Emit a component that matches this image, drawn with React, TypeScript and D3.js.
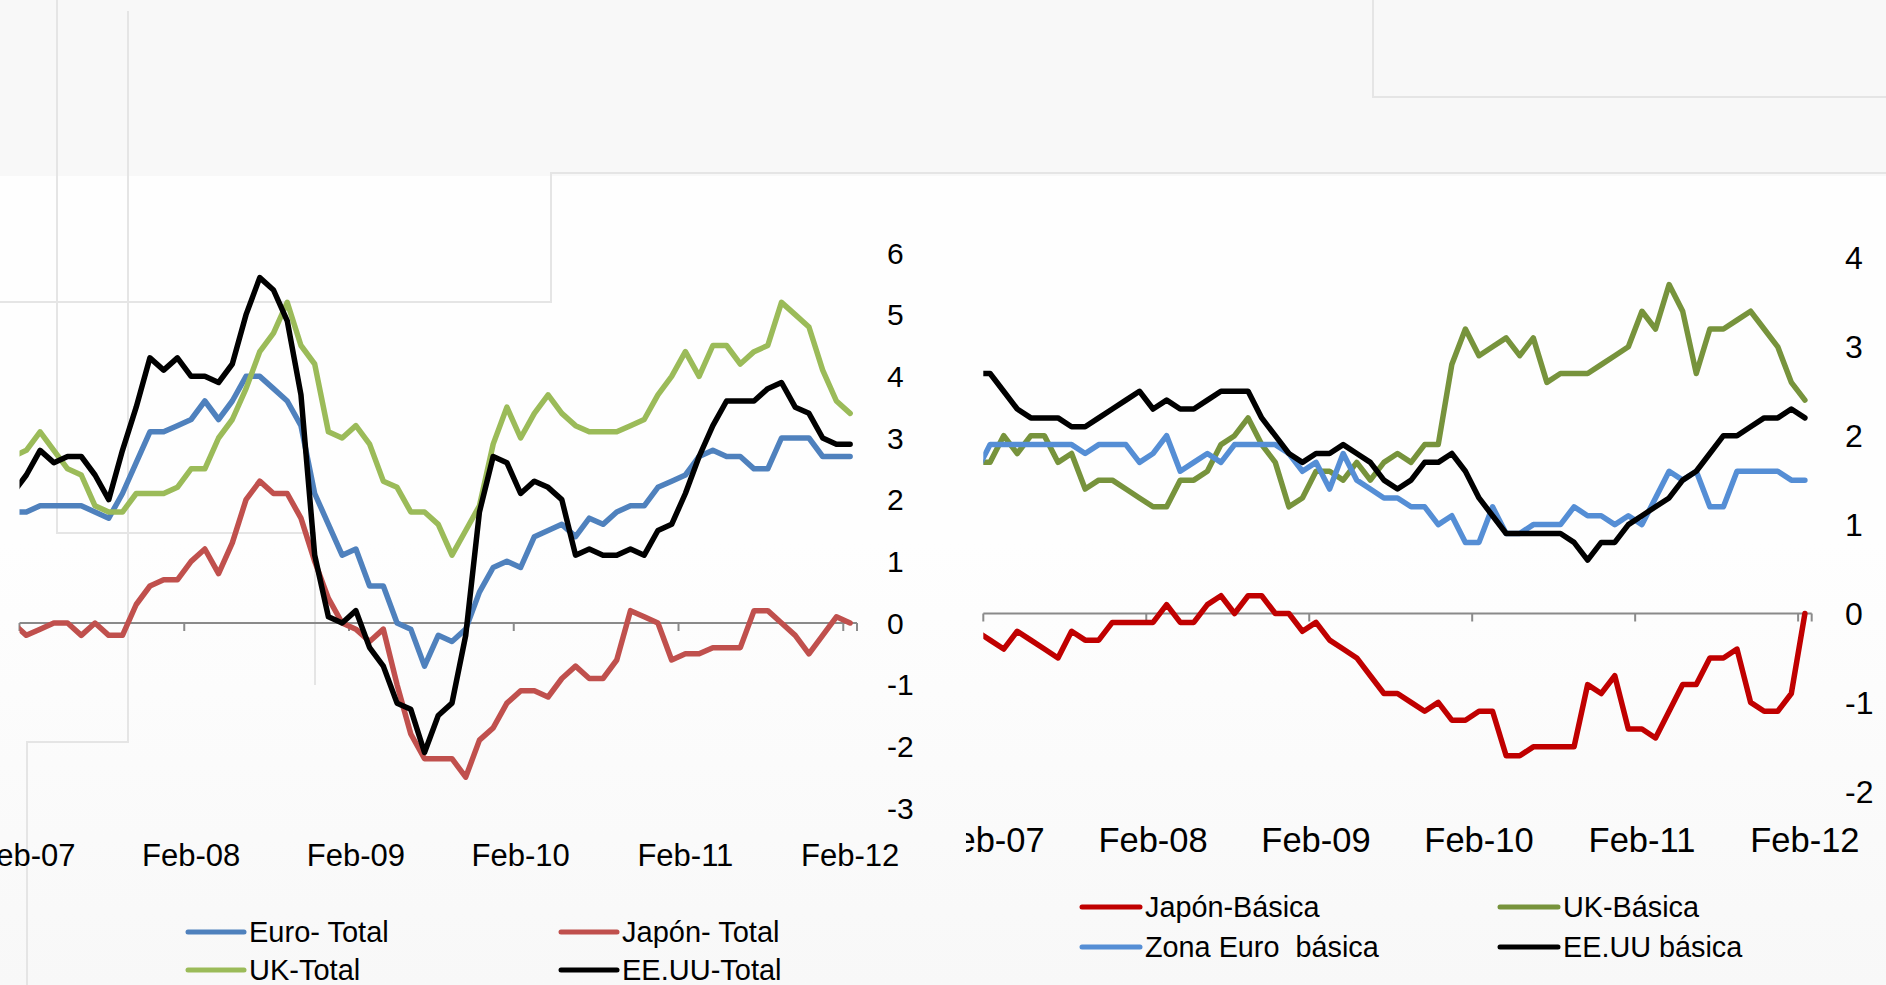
import React from "react";
import * as d3 from "d3";

// Monthly categories, Jan-07 … Feb-12 (Jan-07 sits just left of the visible axis and is clipped)
const months = d3.timeMonth.range(new Date(2007, 0, 1), new Date(2012, 2, 1));
const monthLabels = months.map(d3.timeFormat("%b-%y"));
const xTickLabels = ["Feb-07", "Feb-08", "Feb-09", "Feb-10", "Feb-11", "Feb-12"];
const totalTicks = [-3, -2, -1, 0, 1, 2, 3, 4, 5, 6];
const coreTicks = [-2, -1, 0, 1, 2, 3, 4];

// Headline inflation, % y/y
const euroTotal = [1.8, 1.8, 1.9, 1.9, 1.9, 1.9, 1.8, 1.7, 2.1, 2.6, 3.1, 3.1, 3.2, 3.3, 3.6, 3.3, 3.6, 4.0, 4.0, 3.8, 3.6, 3.2, 2.1, 1.6, 1.1, 1.2, 0.6, 0.6, 0.0, -0.1, -0.7, -0.2, -0.3, -0.1, 0.5, 0.9, 1.0, 0.9, 1.4, 1.5, 1.6, 1.4, 1.7, 1.6, 1.8, 1.9, 1.9, 2.2, 2.3, 2.4, 2.7, 2.8, 2.7, 2.7, 2.5, 2.5, 3.0, 3.0, 3.0, 2.7, 2.7, 2.7];
const japonTotal = [0.0, -0.2, -0.1, 0.0, 0.0, -0.2, 0.0, -0.2, -0.2, 0.3, 0.6, 0.7, 0.7, 1.0, 1.2, 0.8, 1.3, 2.0, 2.3, 2.1, 2.1, 1.7, 1.0, 0.4, 0.0, -0.1, -0.3, -0.1, -1.0, -1.8, -2.2, -2.2, -2.2, -2.5, -1.9, -1.7, -1.3, -1.1, -1.1, -1.2, -0.9, -0.7, -0.9, -0.9, -0.6, 0.2, 0.1, 0.0, -0.6, -0.5, -0.5, -0.4, -0.4, -0.4, 0.2, 0.2, 0.0, -0.2, -0.5, -0.2, 0.1, 0.0];
const ukTotal = [2.7, 2.8, 3.1, 2.8, 2.5, 2.4, 1.9, 1.8, 1.8, 2.1, 2.1, 2.1, 2.2, 2.5, 2.5, 3.0, 3.3, 3.8, 4.4, 4.7, 5.2, 4.5, 4.2, 3.1, 3.0, 3.2, 2.9, 2.3, 2.2, 1.8, 1.8, 1.6, 1.1, 1.5, 1.9, 2.9, 3.5, 3.0, 3.4, 3.7, 3.4, 3.2, 3.1, 3.1, 3.1, 3.2, 3.3, 3.7, 4.0, 4.4, 4.0, 4.5, 4.5, 4.2, 4.4, 4.5, 5.2, 5.0, 4.8, 4.1, 3.6, 3.4];
const eeuuTotal = [2.1, 2.4, 2.8, 2.6, 2.7, 2.7, 2.4, 2.0, 2.8, 3.5, 4.3, 4.1, 4.3, 4.0, 4.0, 3.9, 4.2, 5.0, 5.6, 5.4, 4.9, 3.7, 1.1, 0.1, 0.0, 0.2, -0.4, -0.7, -1.3, -1.4, -2.1, -1.5, -1.3, -0.2, 1.8, 2.7, 2.6, 2.1, 2.3, 2.2, 2.0, 1.1, 1.2, 1.1, 1.1, 1.2, 1.1, 1.5, 1.6, 2.1, 2.7, 3.2, 3.6, 3.6, 3.6, 3.8, 3.9, 3.5, 3.4, 3.0, 2.9, 2.9];

// Core inflation, % y/y
const japonBasica = [-0.2, -0.3, -0.4, -0.2, -0.3, -0.4, -0.5, -0.2, -0.3, -0.3, -0.1, -0.1, -0.1, -0.1, 0.1, -0.1, -0.1, 0.1, 0.2, 0.0, 0.2, 0.2, 0.0, 0.0, -0.2, -0.1, -0.3, -0.4, -0.5, -0.7, -0.9, -0.9, -1.0, -1.1, -1.0, -1.2, -1.2, -1.1, -1.1, -1.6, -1.6, -1.5, -1.5, -1.5, -1.5, -0.8, -0.9, -0.7, -1.3, -1.3, -1.4, -1.1, -0.8, -0.8, -0.5, -0.5, -0.4, -1.0, -1.1, -1.1, -0.9, 0.0];
const ukBasica = [1.7, 1.7, 2.0, 1.8, 2.0, 2.0, 1.7, 1.8, 1.4, 1.5, 1.5, 1.4, 1.3, 1.2, 1.2, 1.5, 1.5, 1.6, 1.9, 2.0, 2.2, 1.9, 1.7, 1.2, 1.3, 1.6, 1.6, 1.5, 1.7, 1.5, 1.7, 1.8, 1.7, 1.9, 1.9, 2.8, 3.2, 2.9, 3.0, 3.1, 2.9, 3.1, 2.6, 2.7, 2.7, 2.7, 2.8, 2.9, 3.0, 3.4, 3.2, 3.7, 3.4, 2.7, 3.2, 3.2, 3.3, 3.4, 3.2, 3.0, 2.6, 2.4];
const euroBasica = [1.6, 1.9, 1.9, 1.9, 1.9, 1.9, 1.9, 1.9, 1.8, 1.9, 1.9, 1.9, 1.7, 1.8, 2.0, 1.6, 1.7, 1.8, 1.7, 1.9, 1.9, 1.9, 1.9, 1.8, 1.6, 1.7, 1.4, 1.8, 1.5, 1.4, 1.3, 1.3, 1.2, 1.2, 1.0, 1.1, 0.8, 0.8, 1.2, 0.9, 0.9, 1.0, 1.0, 1.0, 1.2, 1.1, 1.1, 1.0, 1.1, 1.0, 1.3, 1.6, 1.5, 1.6, 1.2, 1.2, 1.6, 1.6, 1.6, 1.6, 1.5, 1.5];
const eeuuBasica = [2.7, 2.7, 2.5, 2.3, 2.2, 2.2, 2.2, 2.1, 2.1, 2.2, 2.3, 2.4, 2.5, 2.3, 2.4, 2.3, 2.3, 2.4, 2.5, 2.5, 2.5, 2.2, 2.0, 1.8, 1.7, 1.8, 1.8, 1.9, 1.8, 1.7, 1.5, 1.4, 1.5, 1.7, 1.7, 1.8, 1.6, 1.3, 1.1, 0.9, 0.9, 0.9, 0.9, 0.9, 0.8, 0.6, 0.8, 0.8, 1.0, 1.1, 1.2, 1.3, 1.5, 1.6, 1.8, 2.0, 2.0, 2.1, 2.2, 2.2, 2.3, 2.2];

type Series = { name: string; color: string; values: number[] };

const totalSeries: Series[] = [
  { name: "Euro- Total", color: "#4F81BD", values: euroTotal },
  { name: "Japón- Total", color: "#C0504D", values: japonTotal },
  { name: "UK-Total", color: "#9BBB59", values: ukTotal },
  { name: "EE.UU-Total", color: "#000000", values: eeuuTotal },
];

const coreSeries: Series[] = [
  { name: "Japón-Básica", color: "#C00000", values: japonBasica },
  { name: "UK-Básica", color: "#77933C", values: ukBasica },
  { name: "Zona Euro  básica", color: "#558ED5", values: euroBasica },
  { name: "EE.UU básica", color: "#000000", values: eeuuBasica },
];

const FONT = "'Liberation Sans', Arial, Helvetica, sans-serif";

type PanelProps = {
  id: string;
  series: Series[];
  xStart: number;
  xEnd: number;
  yDomain: [number, number];
  yRange: [number, number];
  yTicks: number[];
  yLabelX: number;
  yLabelSize: number;
  xLabelY: number;
  xLabelSize: number;
  strokeWidth: number;
  viewLeft: number;
};

function Panel(p: PanelProps) {
  const n = monthLabels.length;
  const step = (p.xEnd - p.xStart) / (n - 1);
  const x = d3.scaleBand<string>().domain(monthLabels).range([p.xStart - step, p.xEnd]).padding(0);
  const bw = x.bandwidth();
  const cx = (m: string) => (x(m) as number) + bw / 2;
  const y = d3.scaleLinear().domain(p.yDomain).range(p.yRange);
  const line = d3
    .line<number>()
    .x((_, i) => cx(monthLabels[i]))
    .y((v) => y(v));
  const y0 = y(0);

  return (
    <g>
      <defs>
        <clipPath id={p.id}>
          <rect x={p.xStart} y={0} width={p.xEnd - p.xStart + 4} height={985} />
        </clipPath>
        <clipPath id={p.id + "View"}>
          <rect x={p.viewLeft} y={0} width={1886 - p.viewLeft} height={985} />
        </clipPath>
      </defs>
      <g clipPath={`url(#${p.id}View)`}>
        {/* category axis on the zero line */}
        <line x1={p.xStart} x2={p.xEnd} y1={y0} y2={y0} stroke="#8a8a8a" strokeWidth={2} />
        {xTickLabels.map((t) => (
          <line key={t} x1={x(t) as number} x2={x(t) as number} y1={y0} y2={y0 + 8} stroke="#8a8a8a" strokeWidth={2} />
        ))}
        <line x1={p.xEnd} x2={p.xEnd} y1={y0} y2={y0 + 8} stroke="#8a8a8a" strokeWidth={2} />
        {xTickLabels.map((t) => (
          <text key={t} x={cx(t)} y={p.xLabelY} textAnchor="middle" fontSize={p.xLabelSize} fontFamily={FONT} fill="#000">
            {t}
          </text>
        ))}
        {/* value axis labels on the right */}
        {p.yTicks.map((v) => (
          <text key={v} x={p.yLabelX} y={y(v)} dy={p.yLabelSize * 0.358} fontSize={p.yLabelSize} fontFamily={FONT} fill="#000">
            {v}
          </text>
        ))}
        <g clipPath={`url(#${p.id})`}>
          {p.series.map((s) => (
            <path
              key={s.name}
              d={line(s.values) || ""}
              fill="none"
              stroke={s.color}
              strokeWidth={p.strokeWidth}
              strokeLinejoin="round"
              strokeLinecap="round"
            />
          ))}
        </g>
      </g>
    </g>
  );
}

type LegendProps = {
  series: Series[];
  cols: number[];
  rows: number[];
  lineLen: number;
  gap: number;
  fontSize: number;
};

function Legend(p: LegendProps) {
  // entries are laid out row by row, two per row
  return (
    <g>
      {p.series.map((s, i) => {
        const lx = p.cols[i % 2];
        const ly = p.rows[Math.floor(i / 2)];
        return (
          <g key={s.name}>
            <line x1={lx} x2={lx + p.lineLen} y1={ly} y2={ly} stroke={s.color} strokeWidth={5} strokeLinecap="round" />
            <text
              x={lx + p.lineLen + p.gap}
              y={ly}
              dy={p.fontSize * 0.36}
              fontSize={p.fontSize}
              fontFamily={FONT}
              fill="#000"
              style={{ whiteSpace: "pre" }}
            >
              {s.name}
            </text>
          </g>
        );
      })}
    </g>
  );
}

export default function App() {
  const faint = "#e5e5e5";
  return (
    <svg
      width={1886}
      height={985}
      viewBox="0 0 1886 985"
      style={{ position: "absolute", left: 0, top: 0, display: "block" }}
    >
      <defs>
        <linearGradient id="bgFade" x1="0" y1="0" x2="0" y2="1">
          <stop offset="0" stopColor="#fefefe" />
          <stop offset="0.55" stopColor="#fefefe" />
          <stop offset="1" stopColor="#f8f8f8" />
        </linearGradient>
      </defs>
      <rect x={0} y={0} width={1886} height={985} fill="url(#bgFade)" />
      <rect x={0} y={0} width={1886} height={176} fill="#f8f8f8" />

      {/* faint frame lines behind the charts */}
      <g stroke={faint} strokeWidth={2} fill="none">
        <polyline points="57,0 57,533 315,533 315,685" />
        <polyline points="128,11 128,742 27,742 27,985" />
        <polyline points="0,302 551,302 551,173 1886,173" />
        <polyline points="1373,0 1373,97 1886,97" />
      </g>

      <Panel
        id="clipTotal"
        series={totalSeries}
        xStart={19.5}
        xEnd={857}
        yDomain={[-3, 6]}
        yRange={[808, 253]}
        yTicks={totalTicks}
        yLabelX={887}
        yLabelSize={30}
        xLabelY={866}
        xLabelSize={31}
        strokeWidth={5.5}
        viewLeft={0}
      />
      <Panel
        id="clipCore"
        series={coreSeries}
        xStart={983.3}
        xEnd={1811.7}
        yDomain={[-2, 4]}
        yRange={[791.3, 257.9]}
        yTicks={coreTicks}
        yLabelX={1845}
        yLabelSize={32}
        xLabelY={852}
        xLabelSize={34.5}
        strokeWidth={5.5}
        viewLeft={966}
      />

      <Legend series={totalSeries} cols={[188, 561]} rows={[932, 970]} lineLen={56} gap={5} fontSize={29} />
      <Legend series={coreSeries} cols={[1082, 1500]} rows={[907, 947]} lineLen={58} gap={5} fontSize={28.8} />
    </svg>
  );
}
